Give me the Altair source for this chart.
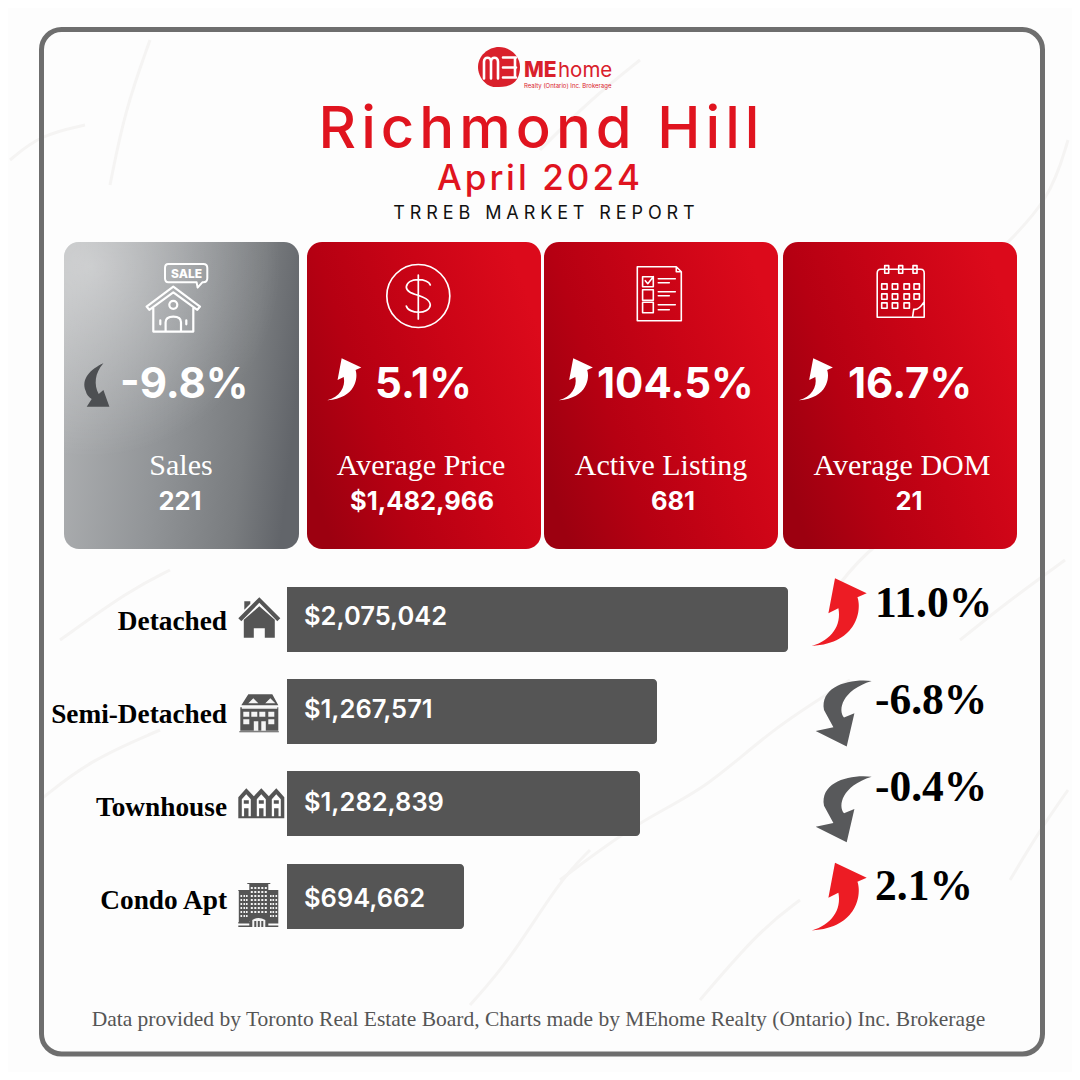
import altair as alt
import pandas as pd

# ---- values ----
city = "Richmond Hill"
period = "April 2024"
report = "TRREB MARKET REPORT"
logo_main = "ME"
logo_home = "home"
logo_sub = "Realty (Ontario) Inc. Brokerage"
footer = "Data provided by Toronto Real Estate Board, Charts made by MEhome Realty (Ontario) Inc. Brokerage"

card_names = ["Sales", "Average Price", "Active Listing", "Average DOM"]
card_values = ["221", "$1,482,966", "681", "21"]
card_changes = ["-9.8%", "5.1%", "104.5%", "16.7%"]

home_types = ["Detached", "Semi-Detached", "Townhouse", "Condo Apt"]
price_labels = ["$2,075,042", "$1,267,571", "$1,282,839", "$694,662"]
bar_lengths = [501, 370, 353, 177]   # drawn bar lengths as they appear in the picture
type_changes = ["11.0%", "-6.8%", "-0.4%", "2.1%"]
type_up = [True, False, False, True]

# ---- layout ----
W = 1064
SX = alt.Scale(domain=[8, 1072], nice=False, zero=False)
SY = alt.Scale(domain=[1072, 8], nice=False, zero=False)
X = lambda f="x": alt.X(f"{f}:Q", scale=SX, axis=None)
Y = lambda f="y": alt.Y(f"{f}:Q", scale=SY, axis=None)

INTER = "Inter"
SERIF = "Liberation Serif"
RED = "#e0141f"
DARK = "#555555"

card_x0 = [64, 307, 544, 783]
card_x1 = [299, 541, 778, 1017]
card_y0, card_y1 = 242, 549
value_cx = [180, 422, 673, 909]
name_cx = [181, 421, 661, 902]
change_x = [120, 375, 597, 848]
bar_x0 = 287
bar_y0 = [587, 679, 771, 864]
bar_h = 65
price_base = [625, 718, 811, 907]
type_base = [630, 723, 816, 909]
change_base = [617, 714, 801, 900]


def txt(texts, xs, ys, size, font=INTER, weight=400, color="black", align="center"):
    df = pd.DataFrame({"t": texts, "x": xs, "y": ys})
    return alt.Chart(df).mark_text(
        font=font, fontSize=size, fontWeight=weight, color=color, align=align,
        baseline="alphabetic",
    ).encode(x=X(), y=Y(), text="t:N")


def glyph(path, x, y, color, sw=None, scale=1.0):
    df = pd.DataFrame({"x": [x], "y": [y]})
    kw = dict(filled=True, fill=color, strokeWidth=0) if sw is None else dict(
        filled=False, stroke=color, strokeWidth=sw, strokeJoin="round", strokeCap="round")
    return alt.Chart(df).mark_point(shape=path, size=4 * scale * scale, opacity=1, **kw).encode(x=X(), y=Y())


def box(x0, y0, x1, y1):
    return f"M{x0} {y0}L{x1} {y0}L{x1} {y1}L{x0} {y1}Z"


def circ(cx, cy, r):
    return f"M{cx-r} {cy}A{r} {r} 0 1 1 {cx+r} {cy}A{r} {r} 0 1 1 {cx-r} {cy}Z"


def rect_layer(x0, y0, x1, y1, fill, **kw):
    df = pd.DataFrame({"x": [x0], "x2": [x1], "y": [y0], "y2": [y1]})
    return alt.Chart(df).mark_rect(fill=fill, **kw).encode(
        x=X(), x2="x2:Q", y=Y(), y2="y2:Q")


def grad(stops, x1, y1, x2, y2):
    return {"gradient": "linear", "x1": x1, "y1": y1, "x2": x2, "y2": y2,
            "stops": [{"offset": o, "color": c} for o, c in stops]}


GREY = grad([(0, "#aeb0b2"), (0.45, "#919497"), (0.8, "#797c7f"), (1, "#62656a")], 0, 0.3, 1, 0.45)
SHEEN = {"gradient": "radial", "x1": 0.2, "y1": 0.08, "r1": 0, "x2": 0.2, "y2": 0.08, "r2": 0.62,
         "stops": [{"offset": 0, "color": "rgba(255,255,255,0.42)"},
                   {"offset": 1, "color": "rgba(255,255,255,0)"}]}
CRIM = grad([(0, "#9c0010"), (0.3, "#b60012"), (0.65, "#cb0416"), (1, "#dc0a1b")], 0, 0.75, 1, 0.3)

UP = ("M-1.7 -35L30 -20L20.7 -16C25 -5 22 30 -25 32.7C-5 27 5 12 1.7 -5L-8.3 0Z")
DOWN = ("M35 -32.3C13 -35 -17 -27 -12.7 -3.3L-3.3 14L-21 17.7L10 33.3L17.7 0L7.3 4.3C1 -3.3 5 -23 35 -32.3Z")
CARD_DOWN = ("M6.7 -21.7C-6 -16 -16 -6 -11 6C-10 10 -8 12 -5 14L-10 21.7L12.7 21.7L6.7 5L2 9C-3 0 -2 -12 6.7 -21.7Z")

layers = []

# marble veins
veins = [
    [(10, 160), (40, 135), (85, 125)],
    [(150, 40), (125, 110), (110, 185)],
    [(560, 880), (640, 820), (705, 790), (770, 730), (850, 680)],
    [(470, 1005), (510, 960), (560, 880), (590, 850)],
    [(835, 590), (870, 545), (945, 500)],
    [(960, 640), (1010, 600), (1065, 560)],
    [(60, 640), (130, 590), (170, 570)],
    [(1000, 250), (1050, 200), (1068, 140)],
    [(40, 800), (90, 760), (160, 730)],
    [(700, 1000), (760, 930), (800, 900)],
    [(1010, 880), (1040, 830), (1068, 790)],
    [(540, 150), (590, 100), (640, 60)],
]
vein_df = pd.DataFrame(
    [{"v": i, "o": k, "x": p[0], "y": p[1]} for i, line in enumerate(veins) for k, p in enumerate(line)]
)
layers.append(alt.Chart(vein_df).mark_line(stroke="#f5f4f3", strokeWidth=3, interpolate="basis").encode(
    x=X(), y=Y(), detail="v:N", order="o:Q"))

# frame
layers.append(rect_layer(41.5, 29.5, 1042.5, 1054, "transparent", stroke="#6e6e6e", strokeWidth=5, cornerRadius=20))

# logo
BLOB = "M0 -20C11 -20 21 -11 21 0C21 8 18 14 13 17C8 20 2 20 -4 20C-13 20 -21 10 -21 0C-21 -11 -11 -20 0 -20Z"
layers.append(glyph(BLOB, 499, 67, "#d9202b"))
LOGO_M = "M-15 11L-15 -6C-15 -11 -8 -11 -8 -6L-8 11M-8 -6C-8 -11 -1 -11 -1 -6L-1 11"
LOGO_E = "M4 -10L17 -10M4 0L17 0M4 10L17 10M16 -10L16 10"
layers.append(glyph(LOGO_M, 499, 67.5, "white", sw=2.6))
layers.append(glyph(LOGO_E, 499, 67.5, "white", sw=2.6))
layers.append(txt([logo_main], [524], [77], 21, weight=800, color="#d9202b", align="left"))
layers.append(txt([logo_home], [558], [77], 20.5, weight=400, color="#d9202b", align="left"))
layers.append(txt([logo_sub], [524], [88], 6, weight=400, color="#d9202b", align="left"))

# titles
HAIR = "\u200a"
THIN = "\u2009"
layers.append(txt([HAIR.join(city)], [539], [148], 58, weight=500, color=RED))
layers.append(txt([HAIR.join(period)], [538.5], [190], 35, weight=500, color=RED))
layers.append(txt([(THIN + HAIR).join(report)], [544], [219], 18, weight=400, color="#111111"))

# cards
layers.append(rect_layer(card_x0[0], card_y0, card_x1[0], card_y1, GREY, cornerRadius=15))
layers.append(rect_layer(card_x0[0], card_y0, card_x1[0], card_y1, SHEEN, cornerRadius=15))
for i in (1, 2, 3):
    layers.append(rect_layer(card_x0[i], card_y0, card_x1[i], card_y1, CRIM, cornerRadius=15))
layers.append(txt(card_names, name_cx, [475] * 4, 30, font=SERIF, color="white"))
layers.append(txt(card_values, value_cx, [510] * 4, 25.5, weight=700, color="white"))
layers.append(txt(card_changes, change_x, [398] * 4, 42, weight=700, color="white", align="left"))

# card arrows
layers.append(glyph(CARD_DOWN, 96.7, 385, "#4d4f52"))
for ax in (342.7, 574.3, 814.3):
    layers.append(glyph(UP, ax, 380, "white", scale=0.62))

# card icons
SALE_B = ("M-5 -34.3L30 -34.3Q34 -34.3 34 -30.3L34 -20Q34 -16 30 -16L29 -16L24.3 -10.7L23.3 -16L-5 -16"
          "Q-8.3 -16 -8.3 -20L-8.3 -30.3Q-8.3 -34.3 -5 -34.3Z")
SALE_H = ("M-26.7 8.3L0 -11.7L26.7 8.3L24 11.5L0 -6L-24 11.5Z"
          "M-20 10L-20 33.3L20 33.3L20 10"
          "M-7.7 33.3L-7.7 24Q-7.7 18.3 0 18.3Q7.7 18.3 7.7 24L7.7 33.3"
          + circ(0, 6.5, 4) + "M-13 22L-13 26M13 22L13 26")
layers.append(glyph(SALE_B, 173.3, 298.3, "white", sw=2))
layers.append(glyph(SALE_H, 173.3, 298.3, "white", sw=2.2))
layers.append(txt(["SALE"], [186.5], [277.5], 12, weight=800, color="white"))

DOLLAR = (circ(0, 0, 31.5) +
          "M12 -11C10 -18 -11 -19 -12 -9C-12 0 11 -2 12 9C11 19 -10 18 -12 10M0 -21L0 23")
layers.append(glyph(DOLLAR, 418.3, 296, "white", sw=1.7))

CHECK = ("M-22 -27L17 -27L22 -22L22 27L-22 27Z M17 -27L17 -22L22 -22" +
         box(-16.7, -17, -6, -7) + box(-16.7, -4, -6, 6.5) + box(-16.7, 8.5, -6, 19) +
         "M-14 -13L-11.5 -10L-6 -17"
         "M-1 -15L16 -15M-1 -11L10 -11M-1 -2L16 -2M-1 2L10 2M-1 11L16 11M-1 16L10 16")
layers.append(glyph(CHECK, 659.3, 293.7, "white", sw=1.6))

cal = ("M-20 -24L20 -24Q23.5 -24 23.5 -20L23.5 24L-23.5 24L-23.5 -20Q-23.5 -24 -20 -24Z"
       "M12 23L13 16Q18 17 23 9L23.5 9")
for rx in (-14, 0, 14.3):
    cal += box(rx - 2, -27.7, rx + 2, -20)
for ry in (-6.7, 3.3, 12.3):
    for cx in (-16.3, -5.7, 6, 16):
        if ry > 10 and cx > 10:
            continue
        cal += box(cx - 2.7, ry - 2.7, cx + 2.7, ry + 2.7)
layers.append(glyph(cal, 900.7, 293.3, "white", sw=1.6))

# bars
bar_df = pd.DataFrame({"type": home_types, "x0": [bar_x0] * 4,
                       "x1": [bar_x0 + v for v in bar_lengths],
                       "y0": bar_y0, "y1": [y + bar_h for y in bar_y0]})
layers.append(alt.Chart(bar_df).mark_rect(
    fill=DARK, cornerRadiusTopRight=4, cornerRadiusBottomRight=4
).encode(x=X("x0"), x2="x1:Q", y=Y("y0"), y2="y1:Q"))
layers.append(txt(price_labels, [304] * 4, price_base, 25.5, weight=600, color="white", align="left"))
layers.append(txt(home_types, [227] * 4, type_base, 27.3, font=SERIF, weight=700, color="black", align="right"))
layers.append(txt(type_changes, [875] * 4, change_base, 43.5, font=SERIF, weight=700, color="black", align="left"))

# change arrows
arrow_pos = [(836.7, 613.3), (836.7, 713.3), (836.7, 809), (836.7, 897.7)]
for (ax, ay), up in zip(arrow_pos, type_up):
    layers.append(glyph(UP if up else DOWN, ax, ay, "#ed1c24" if up else "#58595b"))

# type icons
HOUSE = ("M-21 0L0 -21L21 0L18 3L0 -15.5L-18 3Z M-15 -17L-9 -17L-9 -14.5L-15 -8.5Z"
         "M-15.5 19.5L-15.5 1.5L0 -12L15.5 1.5L15.5 19.5L5.5 19.5L5.5 10L-5.5 10L-5.5 19.5Z")
layers.append(glyph(HOUSE, 259.3, 618.3, DARK))

SEMI_D = ("M-18 -8L-11 -19L13 -19L19 -8Z" + box(-19, -6, 19, 17.5) + box(-20, 18, 19.5, 19))
layers.append(glyph(SEMI_D, 259.3, 713.3, DARK))
semi_w = box(-17.5, -6.5, 18, -4.5)
for cx in (-13, -5, 3, 12):
    semi_w += box(cx - 3, -1.5, cx + 3, 3.5)
for cx in (-13, 12):
    semi_w += box(cx - 3, 6, cx + 3, 11)
semi_w += box(-5.5, 8, -1, 17.5) + box(2, 8, 6.5, 17.5)
semi_w += "M-11 -10L-6 -15L-1 -10Z M6 -10L11 -15L16 -10Z"
layers.append(glyph(semi_w, 259.3, 713.3, "#f4f4f4"))

TOWN = ("M-23 -6L-15 -15L-7.5 -7L0 -15L7.5 -7L15 -15L23 -6L23 15L-23 15Z")
layers.append(glyph(TOWN, 261.3, 803.3, DARK))
town_w = ""
for cx in (-15, 0, 15):
    town_w += f"M{cx-4.5} 13L{cx-4.5} -4L{cx} -9L{cx+4.5} -4L{cx+4.5} 13L{cx+2.2} 13L{cx+2.2} 5L{cx-2.2} 5L{cx-2.2} 13Z"
layers.append(glyph(town_w, 261.3, 803.3, "white"))
town_d = "".join(box(cx - 2.5, -3, cx + 2.5, 0.5) for cx in (-15, 0, 15))
layers.append(glyph(town_d, 261.3, 803.3, DARK))

CONDO = (box(-9, -22, 10, 22) + box(-11, -22, 12, -21) + box(-19.5, -14, -9, 17) + box(10, -14, 20, 17)
         + box(-20, -15, 20, -14) + box(-20, 17, 20, 18.5) + box(-20, 20.5, 20, 22))
layers.append(glyph(CONDO, 258.3, 905, DARK))
condo_w = ""
for ry in range(-18, 10, 4):
    for cx in (-6.5, -3, 0.5, 4, 7.5):
        condo_w += box(cx - 1, ry, cx + 1, ry + 2)
for ry in range(-10, 14, 4):
    for cx in (-17, -14, -11.5, 12.5, 15, 18):
        condo_w += box(cx - 0.8, ry, cx + 0.8, ry + 2)
condo_w += "M-6 22L-6 15Q0 11 7 15L7 22L5 22L5 16L3 16L3 22L1.5 22L1.5 16L-0.5 16L-0.5 22L-2 22L-2 16L-4 16L-4 22Z"
layers.append(glyph(condo_w, 258.3, 905, "#f4f4f4"))

# footer
layers.append(txt([footer], [538.5], [1026], 21.5, font=SERIF, color="#555555"))

chart = alt.layer(*layers).properties(
    width=W, height=W, padding=0, background="#fdfdfd",
    autosize=alt.AutoSizeParams(type="none"),
).configure_view(stroke=None)

chart.save("out.html", embed_options={"renderer": "svg", "actions": False})
